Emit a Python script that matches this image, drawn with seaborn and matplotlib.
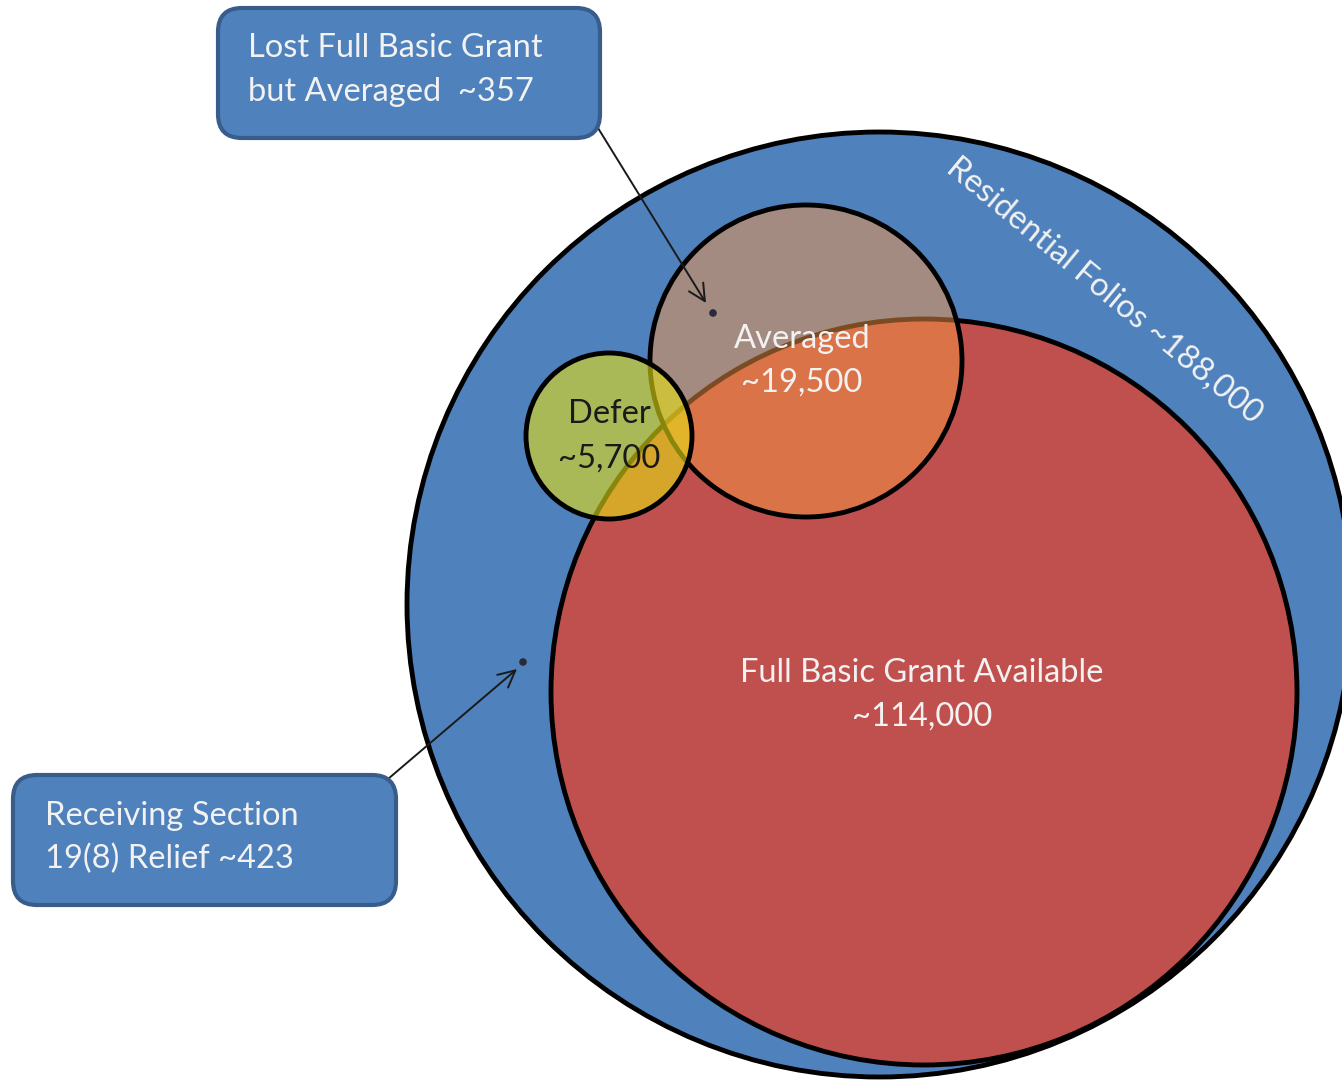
import matplotlib
matplotlib.use("Agg")
import matplotlib.pyplot as plt
from matplotlib.patches import Circle, FancyBboxPatch
import seaborn as sns
import pandas as pd

# ---- data ----
set_names = ["Residential Folios", "Full Basic Grant Available", "Averaged", "Defer"]
set_counts = ["~188,000", "~114,000", "~19,500", "~5,700"]
callout_lines = [["Lost Full Basic Grant", "but Averaged  ~357"],
                 ["Receiving Section", "19(8) Relief ~423"]]

# ---- layout (pixel space) ----
W, H = 1342, 1081
circles = {  # cx, cy, r
    "Residential Folios": (879.5, 604.5, 472.5),
    "Full Basic Grant Available": (924, 692, 373),
    "Averaged": (806, 361, 156),
    "Defer": (609, 436, 83),
}
faces = {
    "Residential Folios": (0.310, 0.506, 0.741, 1.0),
    "Full Basic Grant Available": (0.753, 0.314, 0.302, 1.0),
    "Averaged": (0.969, 0.588, 0.275, 0.5),
    "Defer": (0.90, 0.88, 0.08, 0.6),
}

sns.set_theme(style="white")
plt.rcParams['font.family'] = ['Lato', 'DejaVu Sans']

fig = plt.figure(figsize=(W / 100, H / 100), dpi=100)
ax = fig.add_axes([0, 0, 1, 1])
ax.set_xlim(0, W)
ax.set_ylim(H, 0)
ax.set_axis_off()

for z, name in enumerate(set_names):
    cx, cy, r = circles[name]
    ax.add_patch(Circle((cx, cy), r, facecolor=faces[name], edgecolor="black",
                        linewidth=3.5, zorder=2 + z))

FS = 23.5
txt_col = "#F2F2F2"
# circle labels
lab_pos = {
    "Full Basic Grant Available": (922, 673, 717, txt_col),
    "Averaged": (802, 339, 383, txt_col),
    "Defer": (609, 414, 459, "#1a1a1a"),
}
for name, cnt in zip(set_names, set_counts):
    if name in lab_pos:
        x, y1, y2, c = lab_pos[name]
        ax.text(x, y1, name, ha="center", va="center", fontsize=FS, color=c, zorder=10)
        ax.text(x, y2, cnt, ha="center", va="center", fontsize=FS, color=c, zorder=10)

ax.text(1104, 290, f"{set_names[0]} {set_counts[0]}", ha="center", va="center",
        rotation=-39.5, rotation_mode="anchor", fontsize=FS, color=txt_col, zorder=10)

# callout boxes
boxes = [(218, 8, 382, 130), (13, 775, 383, 130)]
text_xy = [(248, 48, 92), (45, 816, 859)]
for (bx, by, bw, bh), (tx, ty1, ty2), lines in zip(boxes, text_xy, callout_lines):
    ax.add_patch(FancyBboxPatch((bx + 14, by + 14), bw - 28, bh - 28,
                                boxstyle="round,pad=14,rounding_size=24",
                                facecolor="#4F81BD", edgecolor="#385D8A",
                                linewidth=3, zorder=12))
    ax.text(tx, ty1, lines[0], ha="left", va="center", fontsize=FS, color=txt_col, zorder=13)
    ax.text(tx, ty2, lines[1], ha="left", va="center", fontsize=FS, color=txt_col, zorder=13)

# arrows and target dots
targets = pd.DataFrame({"x": [713, 523], "y": [313, 662]})
starts = [(598, 128), (388, 779)]
heads = [(706, 303), (517, 669)]
for (sx, sy), (hx, hy) in zip(starts, heads):
    ax.annotate("", xy=(hx, hy), xytext=(sx, sy),
                arrowprops=dict(arrowstyle="->,head_length=1.0,head_width=0.5",
                                color="#1a1a1a", lw=1.4, shrinkA=0, shrinkB=0),
                zorder=11)
sns.scatterplot(data=targets, x="x", y="y", ax=ax, color="#2a2a3a", s=30,
                edgecolor="none", zorder=11, legend=False)
ax.set_xlim(0, W)
ax.set_ylim(H, 0)
ax.set_axis_off()

fig.savefig("out.png", dpi=100)
